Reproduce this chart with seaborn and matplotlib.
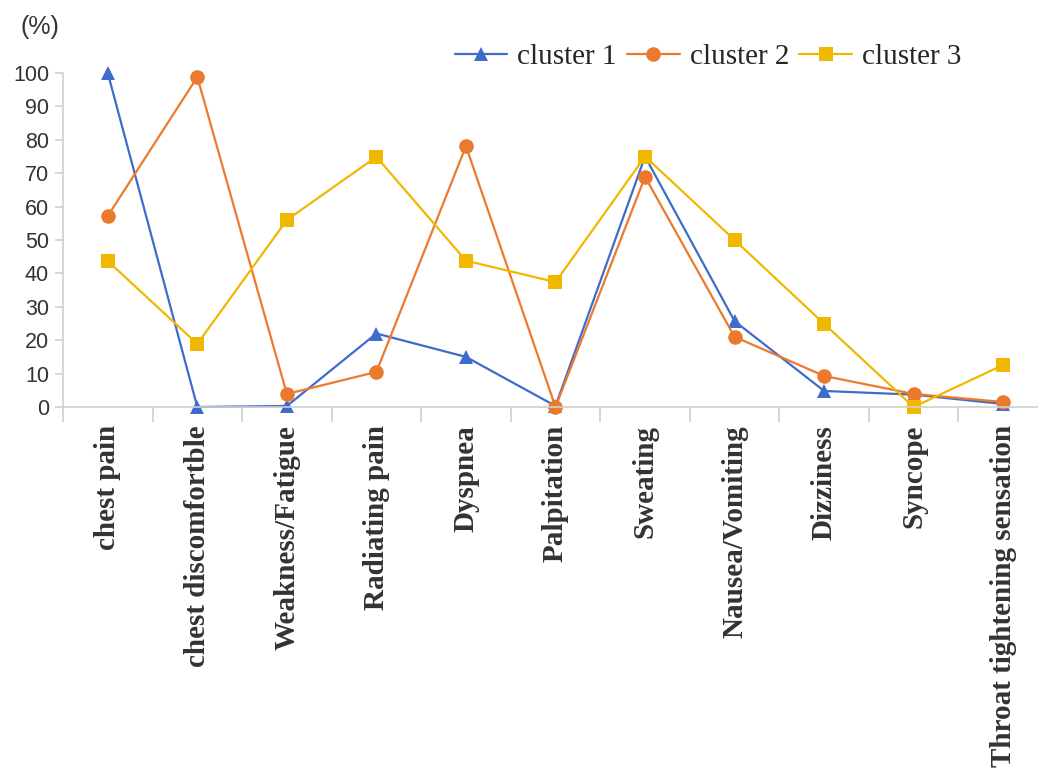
import numpy as np
import pandas as pd
import matplotlib
matplotlib.use("Agg")
import matplotlib.pyplot as plt
import seaborn as sns

symptoms = ["chest pain", "chest discomfortble", "Weakness/Fatigue", "Radiating pain",
            "Dyspnea", "Palpitation", "Sweating", "Nausea/Vomiting", "Dizziness",
            "Syncope", "Throat tightening sensation"]
cluster1 = [100, 0, 0.3, 22, 15, 0.3, 75, 25.7, 4.8, 3.7, 0.9]
cluster2 = [57.2, 98.8, 3.9, 10.5, 78.1, 0, 68.9, 21, 9.3, 3.9, 1.5]
cluster3 = [43.7, 18.9, 56, 74.9, 43.8, 37.4, 75, 50, 24.9, 0, 12.6]
groups = ["cluster 1", "cluster 2", "cluster 3"]

df = pd.DataFrame({
    "pos": list(range(len(symptoms))) * 3,
    "value": cluster1 + cluster2 + cluster3,
    "cluster": [g for g in groups for _ in symptoms],
})

sns.set_style("white")
fig = plt.figure(figsize=(10.38, 7.69), dpi=100)
ax = fig.add_axes([63 / 1038, 1 - 407 / 769, (1048 - 63) / 1038, 334 / 769])

pal = {"cluster 1": "#3F6CCB", "cluster 2": "#EC7A2E", "cluster 3": "#F0B800"}
mk = {"cluster 1": "^", "cluster 2": "o", "cluster 3": "s"}
sns.lineplot(data=df, x="pos", y="value", hue="cluster", style="cluster",
             palette=pal, markers=mk, dashes=False, markersize=10.5,
             markeredgewidth=0, linewidth=1.6, legend=False, ax=ax)
for ln in ax.lines:
    ln.set_clip_on(False)

ax.set_xlim(-0.5, len(symptoms) - 0.5)
ax.set_ylim(0, 100)
ax.set_yticks(range(0, 101, 10))
ax.set_xticks(range(len(symptoms)))
ax.set_xticklabels(symptoms, rotation=90, fontsize=21, fontweight="bold",
                   family="Liberation Serif", color="#333333")
ax.set_xticks(np.arange(-0.5, len(symptoms), 1), minor=True)
ax.tick_params(axis="x", which="major", bottom=True, length=0, pad=13)
ax.tick_params(axis="x", which="minor", bottom=True, length=11, width=1.2,
               color="#d0d0d0", direction="out")
ax.tick_params(axis="y", left=True, length=6, width=1.2, color="#d0d0d0", direction="out",
               labelsize=15.5, labelcolor="#333333", pad=4)
for lab in ax.get_yticklabels():
    lab.set_family("Liberation Sans")
ax.set_xlabel("")
ax.set_ylabel("")
for s in ["top", "right"]:
    ax.spines[s].set_visible(False)
for s in ["left", "bottom"]:
    ax.spines[s].set_color("#d0d0d0")
    ax.spines[s].set_linewidth(1.2)

fig.text(21 / 1038, 1 - 27 / 769, "(%)", fontsize=18, family="Liberation Sans",
         color="#333333", va="center", ha="left")

fig.legend(ax.lines[:3], groups, loc="center", bbox_to_anchor=(708 / 1038, 1 - 57 / 769),
           ncol=3, frameon=False, handlelength=1.8, columnspacing=0.35, handletextpad=0.35,
           prop={"family": "Liberation Serif", "size": 21})

fig.savefig("out.png", dpi=100)
